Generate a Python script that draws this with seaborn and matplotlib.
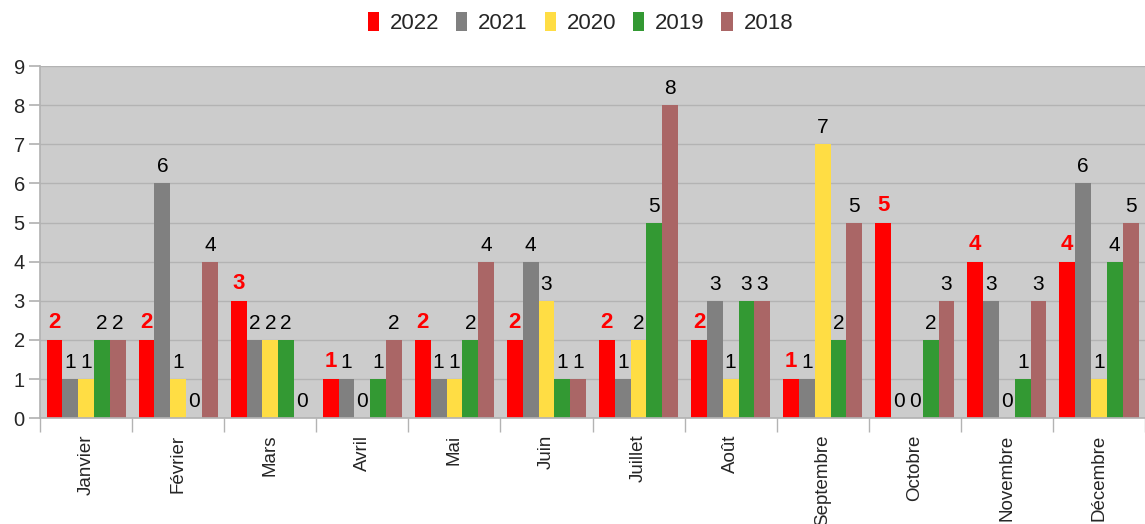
import matplotlib
matplotlib.use("Agg")
import matplotlib.pyplot as plt
import seaborn as sns
import pandas as pd
import numpy as np

months = ["Janvier", "Février", "Mars", "Avril", "Mai", "Juin", "Juillet",
          "Août", "Septembre", "Octobre", "Novembre", "Décembre"]
years = ["2022", "2021", "2020", "2019", "2018"]
v2022 = [2, 2, 3, 1, 2, 2, 2, 2, 1, 5, 4, 4]
v2021 = [1, 6, 2, 1, 1, 4, 1, 3, 1, 0, 3, 6]
v2020 = [1, 1, 2, 0, 1, 3, 2, 1, 7, 0, 0, 1]
v2019 = [2, 0, 2, 1, 2, 1, 5, 3, 2, 2, 1, 4]
v2018 = [2, 4, 0, 2, 4, 1, 8, 3, 5, 3, 3, 5]
colors = ["#ff0000", "#808080", "#ffdd44", "#339933", "#aa6666"]

series = {"2022": v2022, "2021": v2021, "2020": v2020, "2019": v2019, "2018": v2018}
rows = []
for y in years:
    for m, v in zip(months, series[y]):
        rows.append({"Mois": m, "Année": y, "Valeur": v})
df = pd.DataFrame(rows)

sns.set_theme(style="white")
plt.rcParams['font.family'] = ['Liberation Sans', 'DejaVu Sans']

fig = plt.figure(figsize=(11.45, 5.24), dpi=100)
ax = fig.add_axes([0.035, 0.202, 0.965, 0.672])
ax.set_facecolor("#cccccc")

sns.barplot(data=df, x="Mois", y="Valeur", hue="Année", hue_order=years,
            order=months, palette=colors, width=0.86, ax=ax, saturation=1,
            edgecolor="none", linewidth=0)

for i, cont in enumerate(ax.containers):
    if i == 0:
        ax.bar_label(cont, labels=[str(v) for v in series[years[i]]], padding=5,
                     fontsize=16, fontweight="bold", color="#ff0000")
    else:
        ax.bar_label(cont, labels=[str(v) for v in series[years[i]]], padding=5,
                     fontsize=15, color="black")

ax.set_ylim(0, 9)
ax.set_xlim(-0.5, len(months) - 0.5)
ax.set_yticks(range(0, 10))
ax.yaxis.grid(True, color="#b3b3b3", linewidth=1)
ax.set_axisbelow(True)
ax.tick_params(axis="y", labelsize=14.5, length=8, color="#b3b3b3", left=True, pad=3)
ax.set_xticks(range(len(months)))
ax.set_xticklabels(months, rotation=90, fontsize=13.5)
ax.tick_params(axis="x", length=0, pad=12)
ax.set_xticks(np.arange(-0.5, len(months), 1), minor=True)
ax.tick_params(axis="x", which="minor", length=10, color="#b3b3b3", bottom=True)
ax.set_xlabel("")
ax.set_ylabel("")
for s in ["top", "right"]:
    ax.spines[s].set_visible(False)
ax.spines["left"].set_color("#b3b3b3")
ax.spines["bottom"].set_color("#b3b3b3")

handles, labels = ax.get_legend_handles_labels()
ax.get_legend().remove()
fig.legend(handles, labels, loc="upper center", bbox_to_anchor=(0.507, 1.015),
           ncol=5, frameon=False, fontsize=16, handlelength=0.5, handleheight=0.9,
           handletextpad=0.5, columnspacing=0.75)

fig.savefig("out.png", dpi=100)
